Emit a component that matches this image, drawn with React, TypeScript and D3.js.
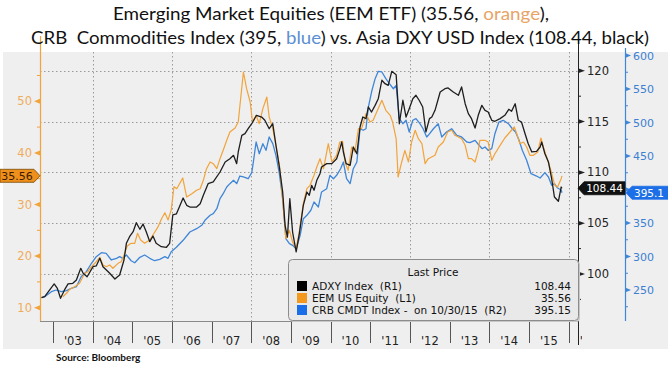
import { useRef, useEffect } from 'react';
import * as d3 from 'd3';

// dates are decimal years
const adxyDates = [2002.71, 2002.79, 2003.03, 2003.11, 2003.19, 2003.29, 2003.38, 2003.50, 2003.59, 2003.70, 2003.76, 2003.86, 2004.01, 2004.09, 2004.18, 2004.26, 2004.43, 2004.56, 2004.68, 2004.79, 2004.85, 2004.93, 2005.02, 2005.10, 2005.19, 2005.27, 2005.35, 2005.44, 2005.52, 2005.60, 2005.73, 2005.86, 2005.94, 2006.02, 2006.11, 2006.28, 2006.37, 2006.45, 2006.62, 2006.71, 2006.79, 2006.91, 2007.04, 2007.21, 2007.34, 2007.46, 2007.55, 2007.63, 2007.67, 2007.76, 2007.84, 2007.92, 2008.01, 2008.13, 2008.26, 2008.34, 2008.45, 2008.54, 2008.62, 2008.70, 2008.79, 2008.85, 2008.91, 2008.97, 2009.04, 2009.13, 2009.21, 2009.31, 2009.40, 2009.46, 2009.52, 2009.58, 2009.65, 2009.73, 2009.77, 2009.90, 2010.03, 2010.15, 2010.22, 2010.28, 2010.32, 2010.39, 2010.49, 2010.57, 2010.66, 2010.74, 2010.81, 2010.89, 2010.95, 2011.03, 2011.12, 2011.20, 2011.29, 2011.37, 2011.45, 2011.54, 2011.65, 2011.73, 2011.82, 2011.90, 2011.98, 2012.07, 2012.15, 2012.23, 2012.32, 2012.40, 2012.49, 2012.55, 2012.63, 2012.76, 2012.88, 2012.96, 2013.09, 2013.22, 2013.30, 2013.39, 2013.47, 2013.55, 2013.64, 2013.72, 2013.81, 2013.89, 2013.97, 2014.06, 2014.14, 2014.27, 2014.39, 2014.49, 2014.56, 2014.65, 2014.73, 2014.81, 2014.90, 2014.98, 2015.07, 2015.19, 2015.28, 2015.32, 2015.40, 2015.49, 2015.57, 2015.64, 2015.74, 2015.81, 2015.83];
const adxyValues = [97.67, 97.77, 99.02, 98.59, 97.61, 98.43, 99.02, 99.08, 99.41, 100.56, 100.07, 99.73, 100.72, 100.79, 101.55, 100.72, 100.07, 99.51, 99.90, 101.38, 103.02, 103.67, 104.16, 105.05, 104.40, 104.92, 104.16, 103.18, 103.74, 103.02, 102.69, 102.63, 103.02, 105.81, 105.91, 107.48, 106.76, 106.59, 106.59, 106.92, 107.75, 108.89, 109.06, 110.04, 111.02, 111.35, 111.68, 110.86, 112.01, 113.65, 113.81, 114.30, 114.79, 115.62, 115.45, 115.13, 114.30, 114.79, 112.67, 110.70, 108.07, 104.79, 103.64, 107.41, 104.13, 102.17, 103.97, 106.76, 108.07, 107.75, 108.73, 108.24, 109.22, 109.87, 110.53, 110.86, 110.86, 111.35, 112.17, 112.99, 112.01, 110.86, 110.70, 112.50, 111.84, 114.47, 115.45, 115.29, 116.44, 115.94, 116.60, 117.25, 119.07, 118.73, 118.57, 119.95, 119.62, 114.79, 117.10, 115.45, 116.27, 117.25, 117.59, 117.10, 116.44, 113.98, 115.29, 115.45, 116.11, 117.91, 118.24, 118.31, 117.91, 117.59, 118.41, 116.76, 115.78, 115.29, 114.37, 115.62, 116.60, 116.11, 115.94, 115.13, 115.03, 115.29, 115.62, 116.21, 116.01, 116.76, 115.13, 114.96, 113.81, 112.82, 112.01, 112.07, 112.50, 112.99, 111.84, 111.02, 109.38, 107.58, 107.16, 108.56, 108.44];

const eemDates = [2003.25, 2003.34, 2003.42, 2003.55, 2003.67, 2003.80, 2003.88, 2003.97, 2004.09, 2004.18, 2004.26, 2004.34, 2004.43, 2004.51, 2004.64, 2004.72, 2004.79, 2004.87, 2004.97, 2005.06, 2005.13, 2005.21, 2005.31, 2005.44, 2005.52, 2005.65, 2005.73, 2005.82, 2005.90, 2005.98, 2006.05, 2006.12, 2006.27, 2006.37, 2006.50, 2006.62, 2006.71, 2006.79, 2006.87, 2006.96, 2007.04, 2007.13, 2007.21, 2007.29, 2007.38, 2007.46, 2007.59, 2007.67, 2007.73, 2007.80, 2007.88, 2007.97, 2008.03, 2008.12, 2008.20, 2008.29, 2008.39, 2008.45, 2008.54, 2008.62, 2008.72, 2008.80, 2008.87, 2008.96, 2009.04, 2009.13, 2009.21, 2009.31, 2009.40, 2009.48, 2009.58, 2009.65, 2009.73, 2009.82, 2009.94, 2010.03, 2010.15, 2010.23, 2010.30, 2010.36, 2010.44, 2010.53, 2010.61, 2010.70, 2010.78, 2010.89, 2010.99, 2011.07, 2011.16, 2011.29, 2011.39, 2011.50, 2011.56, 2011.65, 2011.70, 2011.79, 2011.87, 2011.96, 2012.04, 2012.13, 2012.21, 2012.30, 2012.38, 2012.46, 2012.63, 2012.71, 2012.84, 2012.95, 2013.05, 2013.13, 2013.22, 2013.30, 2013.39, 2013.47, 2013.55, 2013.64, 2013.72, 2013.76, 2013.89, 2013.97, 2014.06, 2014.14, 2014.27, 2014.39, 2014.52, 2014.63, 2014.69, 2014.77, 2014.86, 2014.94, 2015.02, 2015.11, 2015.22, 2015.30, 2015.36, 2015.47, 2015.55, 2015.65, 2015.72, 2015.81, 2015.83];
const eemValues = [12.13, 12.79, 13.57, 14.07, 14.73, 16.67, 16.98, 17.95, 18.91, 19.77, 18.28, 17.95, 18.28, 17.64, 18.60, 18.91, 20.21, 21.96, 22.48, 22.48, 24.42, 23.12, 22.48, 23.12, 24.09, 25.70, 27.13, 28.41, 27.00, 28.93, 33.45, 33.06, 35.14, 31.45, 32.09, 32.75, 33.06, 34.69, 36.94, 38.24, 37.91, 36.94, 38.88, 40.50, 42.44, 44.05, 44.83, 45.99, 50.50, 55.68, 52.44, 49.86, 45.99, 47.29, 45.66, 48.57, 50.83, 46.96, 44.69, 41.47, 36.94, 29.84, 23.37, 25.00, 22.73, 21.43, 24.80, 30.16, 33.06, 33.72, 35.66, 37.27, 38.88, 36.94, 41.78, 38.24, 39.53, 42.11, 42.25, 38.24, 36.63, 41.14, 40.17, 44.69, 44.69, 47.60, 45.99, 46.32, 47.93, 50.19, 48.26, 47.29, 45.99, 42.75, 35.33, 38.24, 40.50, 38.24, 42.11, 44.38, 42.75, 41.78, 37.91, 38.88, 39.53, 41.14, 42.11, 44.05, 44.38, 43.41, 43.08, 42.75, 41.47, 38.88, 38.88, 38.24, 40.50, 42.44, 42.44, 42.11, 38.57, 39.84, 41.47, 42.89, 44.05, 45.02, 43.72, 41.78, 42.11, 41.14, 39.53, 39.53, 40.17, 42.89, 41.14, 38.57, 36.63, 33.72, 33.39, 35.00, 35.56];

const crbDates = [2002.71, 2002.79, 2002.96, 2003.08, 2003.21, 2003.34, 2003.46, 2003.59, 2003.71, 2003.84, 2003.97, 2004.09, 2004.22, 2004.34, 2004.47, 2004.60, 2004.68, 2004.76, 2004.85, 2004.97, 2005.06, 2005.19, 2005.31, 2005.44, 2005.56, 2005.69, 2005.82, 2005.90, 2005.98, 2006.11, 2006.28, 2006.45, 2006.62, 2006.75, 2006.83, 2006.96, 2007.04, 2007.13, 2007.21, 2007.29, 2007.38, 2007.46, 2007.55, 2007.63, 2007.71, 2007.80, 2007.92, 2008.01, 2008.05, 2008.12, 2008.20, 2008.29, 2008.37, 2008.45, 2008.54, 2008.62, 2008.70, 2008.79, 2008.87, 2008.96, 2009.04, 2009.13, 2009.23, 2009.31, 2009.40, 2009.50, 2009.58, 2009.69, 2009.77, 2009.90, 2009.98, 2010.07, 2010.15, 2010.25, 2010.32, 2010.40, 2010.49, 2010.57, 2010.66, 2010.74, 2010.82, 2010.89, 2010.95, 2011.03, 2011.12, 2011.20, 2011.29, 2011.39, 2011.48, 2011.58, 2011.65, 2011.73, 2011.82, 2011.90, 2011.98, 2012.07, 2012.15, 2012.25, 2012.33, 2012.42, 2012.46, 2012.59, 2012.71, 2012.80, 2012.92, 2013.05, 2013.18, 2013.30, 2013.43, 2013.51, 2013.64, 2013.74, 2013.82, 2013.89, 2013.97, 2014.06, 2014.14, 2014.24, 2014.35, 2014.48, 2014.58, 2014.66, 2014.75, 2014.83, 2014.94, 2015.05, 2015.19, 2015.28, 2015.40, 2015.49, 2015.57, 2015.64, 2015.72, 2015.81, 2015.83];
const crbValues = [238.5, 240.0, 247.5, 250.0, 247.5, 249.0, 252.5, 254.9, 269.9, 277.3, 289.9, 299.7, 305.7, 304.8, 294.8, 297.3, 299.7, 297.3, 302.2, 293.7, 290.7, 298.8, 302.2, 297.3, 293.7, 295.8, 299.7, 297.3, 307.2, 313.7, 324.2, 336.6, 341.5, 346.6, 354.0, 361.5, 363.9, 371.3, 386.3, 393.7, 403.7, 408.7, 413.7, 408.7, 420.1, 418.7, 416.1, 425.1, 441.0, 470.9, 453.4, 468.4, 458.5, 478.4, 468.4, 451.0, 426.1, 386.3, 326.6, 319.1, 316.7, 311.6, 331.6, 356.4, 361.5, 369.0, 381.3, 373.9, 396.3, 401.2, 421.2, 416.1, 421.2, 431.0, 441.0, 416.1, 408.7, 431.0, 441.0, 490.7, 488.4, 490.7, 523.1, 545.5, 565.4, 576.4, 575.4, 565.4, 557.9, 550.4, 555.5, 505.7, 498.2, 503.3, 485.8, 503.3, 505.7, 498.2, 490.7, 478.4, 480.9, 490.7, 498.2, 478.4, 485.8, 490.7, 480.9, 478.4, 470.9, 469.9, 473.4, 466.0, 460.9, 463.4, 458.5, 460.9, 483.3, 500.7, 503.3, 498.2, 490.7, 485.8, 473.4, 458.5, 443.6, 423.6, 420.1, 417.2, 425.1, 418.7, 406.3, 408.7, 402.2, 399.3, 395.15];

const yearLabels = ["'02", "'03", "'04", "'05", "'06", "'07", "'08", "'09", "'10", "'11", "'12", "'13", "'14", "'15", "'16"];
const eemTicks = [10, 20, 30, 40, 50];
const adxyTicks = [100, 105, 110, 115, 120];
const crbTicks = [250, 300, 350, 400, 450, 500, 550, 600];
// 400 sits under the last-price tag in the original, so it has no label
const crbLabels = [250, 300, 350, 450, 500, 550, 600];

const legendRows = [
  { label: 'ADXY Index  (R1)', value: '108.44', color: '#000000' },
  { label: 'EEM US Equity  (L1)', value: '35.56', color: '#f39a1e' },
  { label: 'CRB CMDT Index -  on 10/30/15  (R2)', value: '395.15', color: '#1a6ee8' },
];

const ORANGE = '#f2a33a';
const BLUE = '#3f86d8';

export default function App() {
  const svgRef = useRef<SVGSVGElement>(null);

  useEffect(() => {
    const svg = d3.select(svgRef.current);
    svg.selectAll('*').remove();

    const left = 40, right = 578, top = 52, bottom = 321;
    const font = 'DejaVu Sans, Verdana, sans-serif';

    const x = d3.scaleLinear().domain([2003, 2016]).range([53, 568.7]);
    const yE = d3.scaleLinear().domain([10, 50]).range([307.7, 101.3]);
    const yA = d3.scaleLinear().domain([100, 120]).range([274, 70.8]);
    const yC = d3.scaleLinear().domain([250, 600]).range([290, 55.5]);

    // background panel
    svg.append('rect').attr('x', 0).attr('y', 0).attr('width', 668).attr('height', 367).attr('fill', '#ffffff');
    svg.append('rect').attr('x', 3).attr('y', top).attr('width', 665).attr('height', 349 - top).attr('fill', '#efefef');

    const defs = svg.append('defs');
    defs.append('clipPath').attr('id', 'plot-clip')
      .append('rect').attr('x', left).attr('y', top).attr('width', right - left).attr('height', bottom - top);
    defs.append('clipPath').attr('id', 'xlab-clip')
      .append('rect').attr('x', 42).attr('y', bottom).attr('width', 582 - 42).attr('height', 30);

    // grid
    const grid = svg.append('g').attr('stroke', '#9a9a9a').attr('stroke-width', 1).attr('stroke-dasharray', '1.5,2.5');
    grid.selectAll('line.h').data(adxyTicks).join('line')
      .attr('x1', left).attr('x2', right)
      .attr('y1', d => Math.round(yA(d)) + 0.5).attr('y2', d => Math.round(yA(d)) + 0.5);
    grid.selectAll('line.v').data(d3.range(2004, 2017, 2)).enter().append('line')
      .attr('x1', d => Math.round(x(d)) + 0.5).attr('x2', d => Math.round(x(d)) + 0.5)
      .attr('y1', top).attr('y2', bottom);

    // series
    const plot = svg.append('g').attr('clip-path', 'url(#plot-clip)').attr('fill', 'none');
    const series = [
      { dates: crbDates, values: crbValues, y: yC, color: BLUE, w: 1.3 },
      { dates: eemDates, values: eemValues, y: yE, color: ORANGE, w: 1.2 },
      { dates: adxyDates, values: adxyValues, y: yA, color: '#1e1e1e', w: 1.3 },
    ];
    series.forEach(s => {
      const line = d3.line<number>()
        .x((_, i) => x(s.dates[i]))
        .y(d => s.y(d));
      plot.append('path').attr('d', line(s.values)).attr('stroke', s.color)
        .attr('stroke-width', s.w).attr('stroke-linejoin', 'round');
    });

    // x axis strip
    svg.append('line').attr('x1', left).attr('x2', right).attr('y1', bottom + 0.5).attr('y2', bottom + 0.5)
      .attr('stroke', '#8a8a8a');
    const xg = svg.append('g');
    xg.selectAll('line').data(d3.range(2003, 2017)).join('line')
      .attr('x1', d => Math.round(x(d)) + 0.5).attr('x2', d => Math.round(x(d)) + 0.5)
      .attr('y1', bottom + 1).attr('y2', bottom + 22)
      .attr('stroke', '#555').attr('stroke-width', 1);
    xg.append('g').attr('clip-path', 'url(#xlab-clip)')
      .selectAll('text').data(yearLabels).join('text')
      .attr('x', (_, i) => x(2002 + i + 0.5)).attr('y', 345)
      .attr('text-anchor', 'middle').attr('font-family', font).attr('font-size', 11.5)
      .attr('fill', '#222').text(d => d);

    // left axis (EEM)
    svg.append('line').attr('x1', left + 0.5).attr('x2', left + 0.5).attr('y1', 36).attr('y2', bottom)
      .attr('stroke', ORANGE).attr('stroke-width', 1.2);
    const lg = svg.append('g');
    lg.selectAll('path').data(eemTicks).join('path')
      .attr('d', d => `M${left},${yE(d) - 2.5} L${left - 6},${yE(d)} L${left},${yE(d) + 2.5} Z`)
      .attr('fill', ORANGE);
    lg.selectAll('line').data([15, 25, 35, 45, 55]).join('line')
      .attr('x1', left - 3).attr('x2', left).attr('y1', d => yE(d)).attr('y2', d => yE(d))
      .attr('stroke', ORANGE);
    lg.selectAll('text').data(eemTicks).join('text')
      .attr('x', 32).attr('y', d => yE(d) + 4).attr('text-anchor', 'end')
      .attr('font-family', font).attr('font-size', 11.5).attr('fill', '#eeac5c').text(d => d);

    // right axis 1 (ADXY)
    svg.append('line').attr('x1', right + 0.5).attr('x2', right + 0.5).attr('y1', 40).attr('y2', bottom + 24)
      .attr('stroke', '#222').attr('stroke-width', 1);
    const rg = svg.append('g');
    rg.selectAll('path').data(adxyTicks).join('path')
      .attr('d', d => `M${right},${yA(d) - 2.5} L${right + 7},${yA(d)} L${right},${yA(d) + 2.5} Z`)
      .attr('fill', '#222');
    rg.selectAll('line').data([97.5, 102.5, 107.5, 112.5, 117.5]).join('line')
      .attr('x1', right).attr('x2', right + 3).attr('y1', d => yA(d)).attr('y2', d => yA(d))
      .attr('stroke', '#222');
    rg.selectAll('text').data(adxyTicks).join('text')
      .attr('x', right + 9).attr('y', d => yA(d) + 4)
      .attr('font-family', font).attr('font-size', 11.5).attr('fill', '#222').text(d => d);

    // right axis 2 (CRB)
    const cx = 625;
    svg.append('line').attr('x1', cx + 0.5).attr('x2', cx + 0.5).attr('y1', 48).attr('y2', bottom)
      .attr('stroke', BLUE).attr('stroke-width', 1.2);
    const bg = svg.append('g');
    bg.selectAll('path').data(crbTicks).join('path')
      .attr('d', d => `M${cx},${yC(d) - 2.5} L${cx + 6},${yC(d)} L${cx},${yC(d) + 2.5} Z`)
      .attr('fill', BLUE);
    bg.selectAll('line').data(d3.range(225, 600, 50)).join('line')
      .attr('x1', cx).attr('x2', cx + 3).attr('y1', d => yC(d)).attr('y2', d => yC(d))
      .attr('stroke', BLUE);
    bg.selectAll('text').data(crbLabels).join('text')
      .attr('x', cx + 8).attr('y', d => yC(d) + 4)
      .attr('font-family', font).attr('font-size', 11).attr('fill', '#3d7fd2').text(d => d);

    // last value tags
    const tag = (tip: number, y: number, dir: number, w: number, fill: string, txt: string, color: string, size: number, tx: number) => {
      const h = 6.5;
      const b = tip + dir * 6;
      const e = b + dir * w;
      svg.append('path')
        .attr('d', `M${tip},${y} L${b},${y - h} L${e},${y - h} L${e},${y + h} L${b},${y + h} Z`)
        .attr('fill', fill).attr('stroke', dir > 0 ? fill : '#7a4a00').attr('stroke-width', 0.8);
      svg.append('text').attr('x', tx).attr('y', y + 4).attr('text-anchor', 'middle')
        .attr('font-family', font).attr('font-size', size).attr('fill', color).text(txt);
    };
    tag(40, yE(35.56), -1, 34, '#f0901c', '35.56', '#3a1e00', 11, 17);
    tag(578, yA(108.44), 1, 41, '#111111', '108.44', '#ffffff', 10.5, 604.5);
    tag(626, yC(395.15), 1, 44, '#1c6fe6', '395.1', '#ffffff', 10.5, 649);

    // legend
    const lx = 288, ly = 259, lw = 290, lh = 61;
    const leg = svg.append('g');
    leg.append('rect').attr('x', lx + 2).attr('y', ly + 2).attr('width', lw).attr('height', lh)
      .attr('rx', 4).attr('fill', '#c8c8c8');
    leg.append('rect').attr('x', lx + 0.5).attr('y', ly + 0.5).attr('width', lw).attr('height', lh)
      .attr('rx', 4).attr('fill', '#e9e9e9').attr('stroke', '#8c8c8c');
    leg.append('text').attr('x', lx + 145).attr('y', ly + 17).attr('text-anchor', 'middle')
      .attr('font-family', font).attr('font-size', 10.5).attr('fill', '#111').text('Last Price');
    legendRows.forEach((r, i) => {
      const ry = ly + 27 + i * 12;
      leg.append('rect').attr('x', lx + 9).attr('y', ry - 5).attr('width', 10).attr('height', 10).attr('fill', r.color);
      leg.append('text').attr('x', lx + 24).attr('y', ry + 4)
        .attr('font-family', font).attr('font-size', 10.5).attr('fill', '#111')
        .style('white-space', 'pre').text(r.label);
      leg.append('text').attr('x', lx + 283).attr('y', ry + 4).attr('text-anchor', 'end')
        .attr('font-family', font).attr('font-size', 10.5).attr('fill', '#111').text(r.value);
    });

    // title
    const tfont = 'Lato, Carlito, sans-serif';
    const t1 = svg.append('text').attr('x', 113).attr('y', 20).attr('font-family', tfont).attr('font-size', 18)
      .attr('fill', '#111').attr('textLength', 436).attr('lengthAdjust', 'spacingAndGlyphs')
      .style('white-space', 'pre');
    t1.append('tspan').text('Emerging Market Equities (EEM ETF) (35.56, ');
    t1.append('tspan').attr('fill', '#e8a466').text('orange');
    t1.append('tspan').text('),');
    const t2 = svg.append('text').attr('x', 31).attr('y', 44).attr('font-family', tfont).attr('font-size', 18)
      .attr('fill', '#111').attr('textLength', 618).attr('lengthAdjust', 'spacingAndGlyphs')
      .style('white-space', 'pre');
    t2.append('tspan').text('CRB  Commodities Index (395, ');
    t2.append('tspan').attr('fill', '#5b8fd2').text('blue');
    t2.append('tspan').text(') vs. Asia DXY USD Index (108.44, black)');

    svg.append('text').attr('x', 56).attr('y', 361).attr('font-family', tfont).attr('font-size', 10)
      .attr('font-weight', 'bold').attr('fill', '#111').text('Source: Bloomberg');
  }, []);

  return <svg ref={svgRef} width={668} height={367} style={{ position: 'absolute', left: 0, top: 0 }} />;
}
